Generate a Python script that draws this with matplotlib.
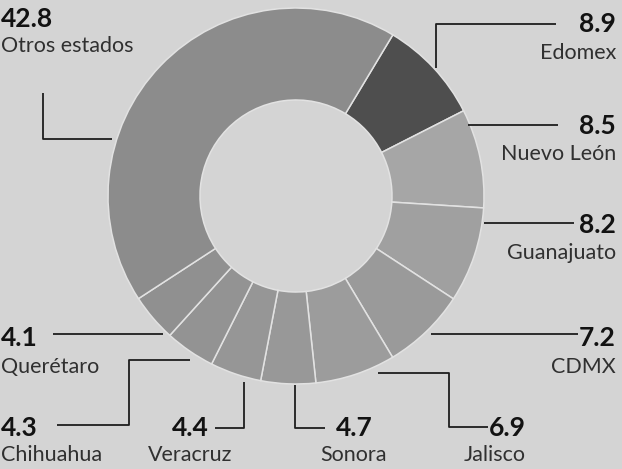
import matplotlib
matplotlib.use("Agg")
import matplotlib.pyplot as plt

# ---- data ----
states = ["Edomex", "Nuevo León", "Guanajuato", "CDMX", "Jalisco", "Sonora",
          "Veracruz", "Chihuahua", "Querétaro", "Otros estados"]
values = [8.9, 8.5, 8.2, 7.2, 6.9, 4.7, 4.4, 4.3, 4.1, 42.8]
colors = ["#4e4e4e", "#a6a6a6", "#a0a0a0", "#9a9a9a", "#9c9c9c", "#989898",
          "#969696", "#939393", "#909090", "#8c8c8c"]

W, H = 622, 469
BG = "#d4d4d4"
fig = plt.figure(figsize=(W / 100, H / 100), dpi=100, facecolor=BG)
ax = fig.add_axes([0, 0, 1, 1])
ax.set_facecolor(BG)

def P(x, y):
    return x, H - y

cx, cy = P(296, 196)
R = 188
ax.pie(values, colors=colors, startangle=59, counterclock=False,
       center=(cx, cy), radius=R,
       wedgeprops=dict(width=92, edgecolor="#e2e2e2", linewidth=1.1))
ax.set_xlim(0, W)
ax.set_ylim(0, H)
ax.set_aspect("equal")
ax.axis("off")

FONT = "Lato"
VAL = dict(fontsize=19, fontweight="bold", color="#121212", family=FONT, va="center")
NAME = dict(fontsize=15.5, color="#303030", family=FONT, va="center", fontweight="normal")

# label layout: (value xy, value ha, name xy, name ha)
layout = {
    "Otros estados": ((1, 19), "left", (1, 46), "left"),
    "Edomex": ((616, 24), "right", (616, 53), "right"),
    "Nuevo León": ((616, 126), "right", (616, 154), "right"),
    "Guanajuato": ((616, 225), "right", (616, 253), "right"),
    "CDMX": ((616, 338), "right", (616, 367), "right"),
    "Jalisco": ((526, 428), "right", (526, 455), "right"),
    "Sonora": ((354, 428), "center", (354, 455), "center"),
    "Veracruz": ((190, 428), "center", (190, 455), "center"),
    "Chihuahua": ((1, 428), "left", (1, 455), "left"),
    "Querétaro": ((1, 338), "left", (1, 367), "left"),
}
for s, v in zip(states, values):
    (vx, vy), vha, (nx, ny), nha = layout[s]
    ax.text(*P(vx, vy), f"{v:.1f}", ha=vha, **VAL)
    ax.text(*P(nx, ny), s, ha=nha, **NAME)

# leader lines (pixel paths)
leaders = [
    [(43, 93), (43, 139), (112, 139)],
    [(436, 68), (436, 24), (556, 24)],
    [(468, 125), (558, 125)],
    [(484, 223), (574, 223)],
    [(431, 334), (578, 334)],
    [(378, 373), (449, 373), (449, 427), (488, 427)],
    [(295, 385), (295, 428), (325, 428)],
    [(244, 382), (244, 428), (215, 428)],
    [(190, 360), (129, 360), (129, 425), (57, 425)],
    [(163, 334), (53, 334)],
]
for pts in leaders:
    xs = [p[0] for p in pts]
    ys = [H - p[1] for p in pts]
    ax.plot(xs, ys, color="#1e1e1e", lw=1.3, solid_capstyle="butt")

fig.savefig("out.png", dpi=100, facecolor=BG)
